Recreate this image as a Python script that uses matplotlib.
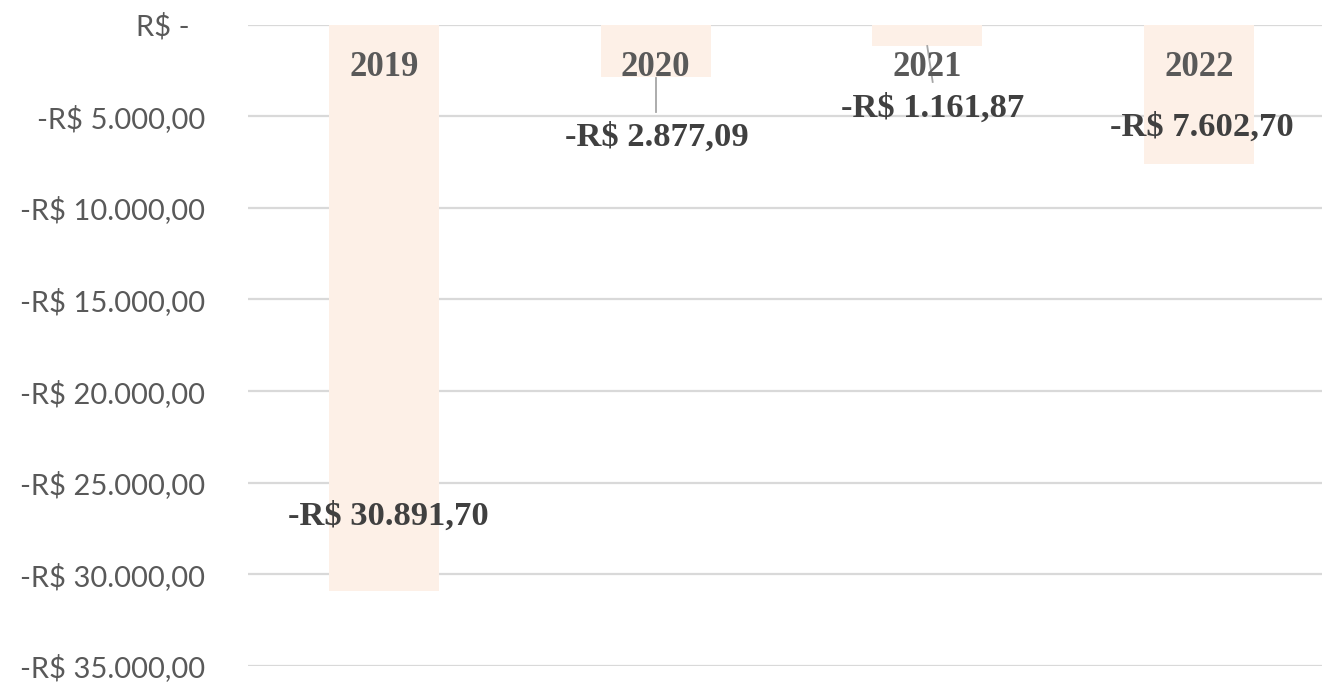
import matplotlib
matplotlib.use("Agg")
import matplotlib.pyplot as plt
import matplotlib.transforms as mtransforms

# ---- data ----
categories = ["2019", "2020", "2021", "2022"]
values = [-30891.70, -2877.09, -1161.87, -7602.70]
yticks = [0, -5000, -10000, -15000, -20000, -25000, -30000, -35000]
ytick_labels = ["R$ -  ", "-R$ 5.000,00", "-R$ 10.000,00", "-R$ 15.000,00",
                "-R$ 20.000,00", "-R$ 25.000,00", "-R$ 30.000,00", "-R$ 35.000,00"]

# label placement (data units), separate from the data
label_dx = [0.015, 0.005, 0.02, 0.01]
label_y = [-26850, -6134, -4553, -5590]
leaders = {1: ((0.0, -2917), (0.0, -4771)), 2: ((0.0, -1172), (0.02, -3135))}


def brl(v):
    s = f"{abs(v):,.2f}".replace(",", "X").replace(".", ",").replace("X", ".")
    return ("-R$ " if v < 0 else "R$ ") + s


W, H = 1322, 684
fig = plt.figure(figsize=(W / 100, H / 100), dpi=100)
left, right_px = 248, 248 + 4 * 271.7
bottom_px, top_px = 666, 24.5
ax = fig.add_axes([left / W, (H - bottom_px) / H, (right_px - left) / W,
                   (bottom_px - top_px) / H])

x = list(range(len(categories)))
ax.bar(x, values, width=0.405, color="#FDF0E7", zorder=2)
ax.set_xlim(-0.5, 3.5)
ax.set_ylim(-35000, 0)
ax.set_yticks(yticks)
ax.set_yticklabels(ytick_labels, fontfamily="Lato", fontsize=21, color="#595959")
ax.tick_params(axis="y", length=0, pad=31)
ax.set_xticks([])
ax.grid(axis="y", color="#D9D9D9", linewidth=1.6, zorder=0)
ax.set_axisbelow(True)
for s in ax.spines.values():
    s.set_visible(False)

trans = mtransforms.blended_transform_factory(ax.transData, ax.transAxes)
for i, c in enumerate(categories):
    ax.text(i, 0.9337, c, transform=trans, ha="center", va="center",
            fontfamily="Liberation Serif", fontweight="bold", fontsize=25,
            color="#595959", zorder=4)

for i, v in enumerate(values):
    ax.text(i + label_dx[i], label_y[i], brl(v), ha="center", va="center",
            fontfamily="Liberation Serif", fontweight="bold", fontsize=24.8,
            color="#404040", zorder=5)

for i, ((dx0, y0), (dx1, y1)) in leaders.items():
    ax.plot([i + dx0, i + dx1], [y0, y1], color="#A6A6A6", linewidth=1.3, zorder=3)

fig.savefig("out.png", dpi=100)
